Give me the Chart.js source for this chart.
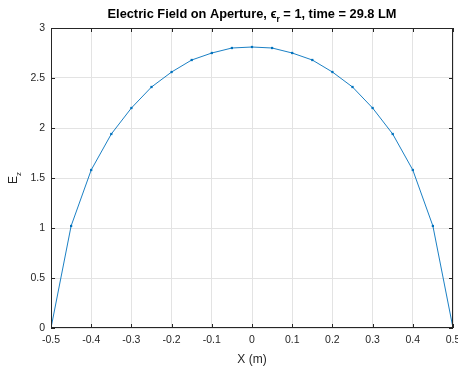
<!DOCTYPE html>
<html><head><meta charset="utf-8">
<script src="https://cdn.jsdelivr.net/npm/chart.js@4"></script>
<style>html,body{margin:0;padding:0;background:#fff}#w{width:458px;height:371px}</style>
</head><body><div id="w"><canvas id="c" width="458" height="371"></canvas></div>
<script>
const xValues = [-0.5,-0.45,-0.4,-0.35,-0.3,-0.25,-0.2,-0.15,-0.1,-0.05,0,0.05,0.1,0.15,0.2,0.25,0.3,0.35,0.4,0.45,0.5];
const ezValues = [0,1.02,1.58,1.94,2.20,2.41,2.56,2.68,2.75,2.80,2.81,2.80,2.75,2.68,2.56,2.41,2.20,1.94,1.58,1.02,0];
const xTicks = [-0.5,-0.4,-0.3,-0.2,-0.1,0,0.1,0.2,0.3,0.4,0.5];
const yTicks = [0,0.5,1,1.5,2,2.5,3];
const FONT = 'Liberation Sans, Arial, Helvetica, sans-serif';

const deco = {
  id:'deco',
  afterDraw(chart){
    const {ctx, chartArea:a, scales:{x,y}} = chart;
    ctx.save();
    ctx.strokeStyle='#262626'; ctx.lineWidth=1;
    ctx.strokeRect(Math.round(a.left)+0.5, Math.round(a.top)+0.5, Math.round(a.right-a.left)-1, Math.round(a.bottom-a.top)-1);
    ctx.beginPath();
    xTicks.forEach(v=>{const px=Math.round(x.getPixelForValue(v))+0.5;
      ctx.moveTo(px,a.bottom); ctx.lineTo(px,a.bottom-4);
      ctx.moveTo(px,a.top); ctx.lineTo(px,a.top+4);});
    yTicks.forEach(v=>{const py=Math.round(y.getPixelForValue(v))+0.5;
      ctx.moveTo(a.left,py); ctx.lineTo(a.left+4,py);
      ctx.moveTo(a.right,py); ctx.lineTo(a.right-4,py);});
    ctx.stroke();
    ctx.fillStyle='#000';
    ctx.textBaseline='alphabetic';
    const parts=[['Electric Field on Aperture, ','b'],['\u03F5','b'],['r','s'],[' = 1, time = 29.8 LM','b']];
    const fnt=k=>'bold '+(k==='b'?'12.8px ':'8.5px ')+FONT;
    let total=0; parts.forEach(p=>{ctx.font=fnt(p[1]); total+=ctx.measureText(p[0]).width;});
    let cx=(a.left+a.right)/2-total/2; const by=18;
    parts.forEach(p=>{ctx.font=fnt(p[1]); ctx.fillText(p[0],cx,p[1]==='s'?by+4:by); cx+=ctx.measureText(p[0]).width;});
    ctx.save(); ctx.translate(17,(a.top+a.bottom)/2); ctx.rotate(-Math.PI/2);
    ctx.fillStyle='#262626'; ctx.font='12px '+FONT;
    const w1=ctx.measureText('E').width; ctx.font='8px '+FONT; const w2=ctx.measureText('z').width;
    ctx.font='12px '+FONT; ctx.fillText('E',-(w1+w2)/2,0);
    ctx.font='8px '+FONT; ctx.fillText('z',-(w1+w2)/2+w1,4);
    ctx.restore();
    ctx.restore();
  }
};

new Chart(document.getElementById('c'),{
  type:'line',
  data:{datasets:[{data:xValues.map((v,i)=>({x:v,y:ezValues[i]})),
    borderColor:'#0072BD',backgroundColor:'#0072BD',borderWidth:0.9,
    pointRadius:1.6,pointBorderWidth:0,pointStyle:'rect',tension:0}]},
  options:{
    responsive:false,animation:false,
    layout:{padding:{top:28,right:5,left:0,bottom:0}},
    plugins:{legend:{display:false},tooltip:{enabled:false},title:{display:false}},
    scales:{
      x:{type:'linear',min:-0.5,max:0.5,
        afterBuildTicks(s){s.ticks=xTicks.map(v=>({value:v}));},
        afterFit(s){s.height=43;s.paddingLeft=0;s.paddingRight=0;},
        grid:{color:'#e3e3e3',drawTicks:false},border:{display:false},
        ticks:{padding:6,color:'#262626',font:{family:FONT,size:10.5},maxRotation:0,
          callback:v=>String(Math.round(v*10)/10)},
        title:{display:true,text:'X (m)',color:'#262626',font:{family:FONT,size:12},padding:{top:2}}},
      y:{min:0,max:3,
        afterBuildTicks(s){s.ticks=yTicks.map(v=>({value:v}));},
        afterFit(s){s.width=51;s.paddingTop=0;s.paddingBottom=0;},
        grid:{color:'#e3e3e3',drawTicks:false},border:{display:false},
        ticks:{padding:6,color:'#262626',font:{family:FONT,size:10.5},callback:v=>String(v)}}
    }
  },
  plugins:[deco]
});
</script></body></html>
